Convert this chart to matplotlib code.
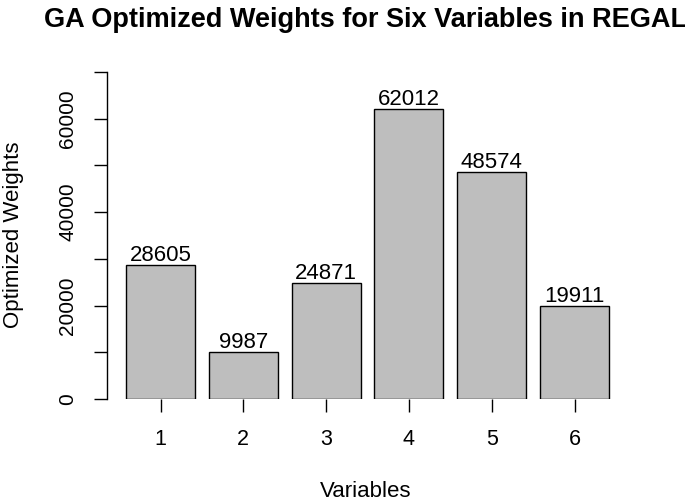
import matplotlib
matplotlib.use("Agg")
import matplotlib.pyplot as plt
import numpy as np

plt.rcParams['font.family'] = ['Liberation Sans', 'DejaVu Sans']

categories = ["1", "2", "3", "4", "5", "6"]
weights = [28605, 9987, 24871, 62012, 48574, 19911]
yticks = [0, 10000, 20000, 30000, 40000, 50000, 60000, 70000]
ytick_labels = ["0", "", "20000", "", "40000", "", "60000", ""]

W, H = 685, 504
fig = plt.figure(figsize=(W / 100, H / 100), dpi=100)
left, right, bottom, top = 107, 641.6, 399, 72
ax = fig.add_axes([left / W, (H - bottom) / H, (right - left) / W, (bottom - top) / H])

space, width = 0.2, 1.0
lefts = [space + i * (width + space) for i in range(len(weights))]
centers = [l + width / 2 for l in lefts]
ax.bar(lefts, weights, width=width, align='edge', color='#bebebe',
       edgecolor='black', linewidth=1.0)
for c, v in zip(centers, weights):
    ax.annotate(str(v), (c, v), xytext=(0, 2.8), textcoords='offset points',
                ha='center', va='baseline', fontsize=16)

unit = 69.0
bar1_left_px = 126.0
xmin = lefts[0] - (bar1_left_px - left) / unit
xmax = xmin + (right - left) / unit
ax.set_xlim(xmin, xmax)
ax.set_ylim(0, 70000)

for s in ['top', 'right', 'bottom']:
    ax.spines[s].set_visible(False)
ax.spines['left'].set_bounds(0, 70000)
ax.spines['left'].set_linewidth(1.0)

ax.set_yticks(yticks)
ax.set_yticklabels(ytick_labels, rotation=90, va='center', fontsize=15)
ax.set_xticks(centers)
ax.set_xticklabels(categories, fontsize=15.5)
ax.tick_params(axis='both', length=9.4, width=1.0, pad=12)

fig.text(366 / W, 1 - 497 / H, "Variables", ha='center', va='baseline', fontsize=16)
fig.text(14 / W, 1 - 235 / H, "Optimized Weights", ha='center', va='center',
         rotation=90, fontsize=16)
fig.text(366 / W, 1 - 27 / H, "GA Optimized Weights for Six Variables in REGAL",
         ha='center', va='baseline', fontsize=19.5, fontweight='bold')

fig.savefig("out.png", dpi=100)
